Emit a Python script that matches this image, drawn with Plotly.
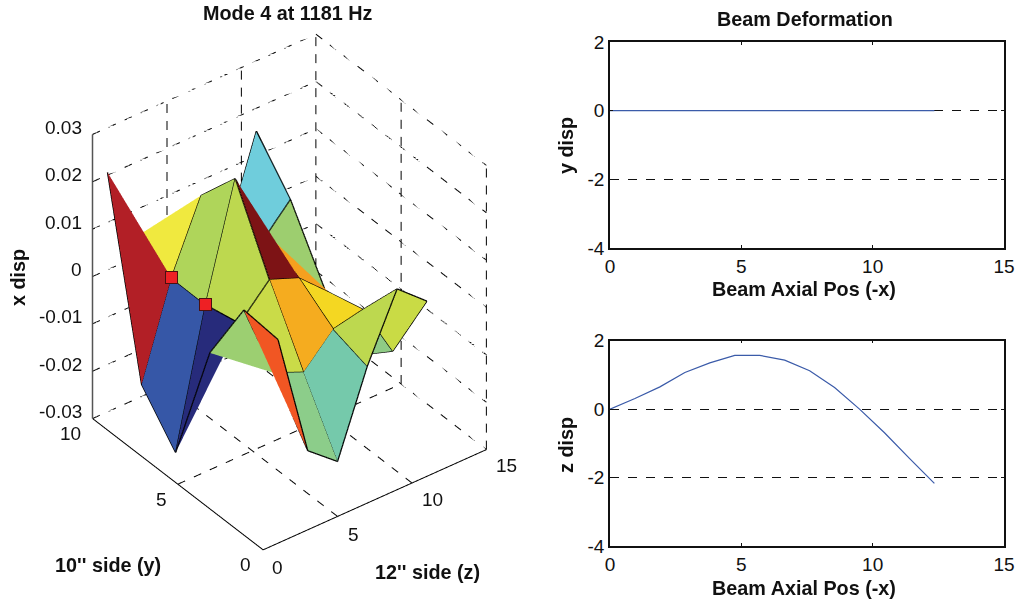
import numpy as np
import plotly.graph_objects as go

# ---- data ----
y_side = [10, 8, 6, 4, 2, 0]
z_side = [1, 3, 5, 7, 9, 11]
x_disp = [
    [0.0206, 0.0043, -0.0026, -0.0069, -0.0040, 0.0152],
    [-0.0187, 0.0010, 0.0156, 0.0001, -0.0002, 0.0063],
    [-0.0275, 0.0009, 0.0247, 0.0105, -0.0003, -0.0070],
    [-0.0009, 0.0025, 0.0089, 0.0064, 0.0006, -0.0155],
    [0.0137, -0.0024, -0.0051, 0.0012, 0.0025, -0.0091],
    [0.0130, -0.0133, -0.0184, -0.0011, 0.0124, 0.0070],
]
face_colors = [
    ["#B21F26", "#F0E93F", "#C9DB45", "#BDD84F", "#6FCDDC"],
    ["#3657A7", "#AFD55A", "#BDD84F", "#BDD84F", "#9DCE6F"],
    ["#272B7B", "#BDD84F", "#7D1315", "#F5A01F", "#9DCE6F"],
    ["#9CCF71", "#CADB48", "#F5AC1F", "#F4D722", "#8FCB85"],
    ["#F15623", "#8CCD8A", "#75C9AB", "#BDD84F", "#C9DB45"],
]
marker_y = [8, 6]
marker_z = [3, 3]
marker_d = [0.0010, 0.0009]

z_ticks = [0, 5, 10, 15]
y_ticks = [0, 5, 10]
d_ticks = [-0.03, -0.02, -0.01, 0, 0.01, 0.02, 0.03]
d_labels = ["-0.03", "-0.02", "-0.01", "0", "0.01", "0.02", "0.03"]

beam_x = [0, 0.95, 1.9, 2.85, 3.8, 4.75, 5.7, 6.65, 7.6, 8.55, 9.5, 10.45, 11.4, 12.35]
beam_y = [0] * 14
beam_z = [0, 0.31, 0.65, 1.07, 1.35, 1.57, 1.57, 1.43, 1.12, 0.63, 0, -0.69, -1.44, -2.17]
panel_x_ticks = [0, 5, 10, 15]
panel_y_ticks = [-4, -2, 0, 2]
panel_y_labels = ["-4", "-2", "0", "2"]

W, H = 1018, 602
INK = "#111111"
FONT = "Liberation Sans"
TICK = 19
BOLD = 19.8


def segs(items):
    xs, ys, zs = [], [], []
    for (a, b) in items:
        xs += [a[0], b[0], None]
        ys += [a[1], b[1], None]
        zs += [a[2], b[2], None]
    return xs, ys, zs


# approximate on-screen length of one data unit along each direction, for the dash pattern
PX = (16.3, 21.5, 4733.0)


def dashed(a, b, on=8.0, off=9.5):
    length = sum((abs(b[n] - a[n]) * PX[n]) ** 2 for n in range(3)) ** 0.5
    out, s = [], 0.0
    while s < length:
        e = min(s + on, length)
        t0, t1 = s / length, e / length
        out.append((tuple(a[n] + (b[n] - a[n]) * t0 for n in range(3)),
                    tuple(a[n] + (b[n] - a[n]) * t1 for n in range(3))))
        s += on + off
    return out


fig = go.Figure()

# surface
ny, nz = len(y_side), len(z_side)
vx, vy, vz = [], [], []
for r in range(ny):
    for c in range(nz):
        vx.append(z_side[c]); vy.append(y_side[r]); vz.append(x_disp[r][c])
ti, tj, tk, fc = [], [], [], []
for r in range(ny - 1):
    for c in range(nz - 1):
        a = r * nz + c
        b = (r + 1) * nz + c
        d = (r + 1) * nz + c + 1
        e = r * nz + c + 1
        ti += [a, a]; tj += [b, d]; tk += [d, e]
        fc += [face_colors[r][c]] * 2

# grid
dmin, dmax = d_ticks[0], d_ticks[-1]
grid = []
for d in d_ticks:
    grid += dashed((0, 10, d), (15, 10, d))
    grid += dashed((15, 10, d), (15, 0, d))
for z in z_ticks[1:]:
    grid += dashed((z, 10, dmin), (z, 10, dmax), 9, 8)
for y in y_ticks[:-1]:
    grid += dashed((15, y, dmin), (15, y, dmax), 9, 8)
for z in z_ticks[1:-1]:
    grid += dashed((z, 0, dmin), (z, 10, dmin))
for y in y_ticks[1:-1]:
    grid += dashed((0, y, dmin), (15, y, dmin))
gx, gy, gz = segs(grid)
fig.add_trace(go.Scatter3d(x=gx, y=gy, z=gz, mode="lines", hoverinfo="skip",
                           line=dict(color="#000000", width=2), showlegend=False))

# solid axes and ticks
axes = [((0, 0, dmin), (15, 0, dmin)), ((0, 0, dmin), (0, 10, dmin))]
for z in z_ticks:
    axes.append(((z, 0, dmin), (z, -0.45, dmin)))
for y in y_ticks:
    axes.append(((0, y, dmin), (-0.45, y, dmin)))
ax_x, ax_y, ax_z = segs(axes)
fig.add_trace(go.Scatter3d(x=ax_x, y=ax_y, z=ax_z, mode="lines", hoverinfo="skip",
                           line=dict(color="#000000", width=2), showlegend=False))
vert = [((0, 10, d), (0, 10.45, d)) for d in d_ticks]
vx2, vy2, vz2 = segs(vert)
fig.add_trace(go.Scatter3d(x=vx2, y=vy2, z=vz2, mode="lines", hoverinfo="skip",
                           line=dict(color="#000000", width=1.6), showlegend=False))
fig.add_trace(go.Scatter3d(x=[0, 0], y=[10, 10], z=[dmin, dmax], mode="lines", hoverinfo="skip",
                           line=dict(color="#555555", width=3), showlegend=False))

fig.add_trace(go.Mesh3d(x=vx, y=vy, z=vz, i=ti, j=tj, k=tk, facecolor=fc, flatshading=True,
                        hoverinfo="skip", showscale=False,
                        lighting=dict(ambient=1, diffuse=0, specular=0, fresnel=0, roughness=1)))

# surface edges
edges = []
for r in range(ny):
    for c in range(nz):
        p = (z_side[c], y_side[r], x_disp[r][c])
        if c + 1 < nz:
            edges.append((p, (z_side[c + 1], y_side[r], x_disp[r][c + 1])))
        if r + 1 < ny:
            edges.append((p, (z_side[c], y_side[r + 1], x_disp[r + 1][c])))
ex, ey, ez = segs(edges)
fig.add_trace(go.Scatter3d(x=ex, y=ey, z=ez, mode="lines", hoverinfo="skip",
                           line=dict(color="#000000", width=2.5), showlegend=False))

# tick labels as scene annotations
f = dict(family=FONT, size=TICK, color=INK)
ann = []
for d, lab in zip(d_ticks, d_labels):
    ann.append(dict(x=0, y=10, z=d, text=lab, showarrow=False, xanchor="right", yanchor="middle",
                    xshift=-9, yshift=7, font=f))
for y, (sx, sy) in zip(y_ticks, [(-18, -15), (-16, -15), (-22, -15)]):
    ann.append(dict(x=0, y=y, z=dmin, text=str(y), showarrow=False, xanchor="center", yanchor="middle",
                    xshift=sx, yshift=sy, font=f))
for z, (sx, sy) in zip(z_ticks, [(14, -18), (16, -18), (21, -16), (20, -16)]):
    ann.append(dict(x=z, y=0, z=dmin, text=str(z), showarrow=False, xanchor="center", yanchor="middle",
                    xshift=sx, yshift=sy, font=f))
# square point markers pinned to the surface nodes
for mz, my, md in zip(marker_z, marker_y, marker_d):
    ann.append(dict(x=mz, y=my, z=md, text=" ", showarrow=False, xanchor="center", yanchor="middle",
                    bgcolor="#EE2024", bordercolor="#4a1010", borderwidth=1, borderpad=0,
                    width=11, height=11, font=dict(family=FONT, size=8)))

cx, cy = 289.5, 292.0
half_h = 281.0
half_w = cx
eye = dict(x=-0.491, y=-0.643, z=0.588)
scene = dict(
    domain=dict(x=[0, 2 * half_w / W], y=[1 - (cy + half_h) / H, 1 - (cy - half_h) / H]),
    aspectmode="manual", aspectratio=dict(x=1, y=1, z=1.25),
    camera=dict(eye=eye, up=dict(x=0, y=0, z=1), center=dict(x=0, y=0, z=0),
                projection=dict(type="orthographic")),
    xaxis=dict(range=[0, 15], visible=False),
    yaxis=dict(range=[0, 10], visible=False),
    zaxis=dict(range=[dmin, dmax], visible=False),
    annotations=ann, bgcolor="white",
)

# 2D panels
fig.add_trace(go.Scatter(x=beam_x, y=beam_y, mode="lines", line=dict(color="#3B5BA9", width=1.2),
                         xaxis="x", yaxis="y", showlegend=False, hoverinfo="skip"))
fig.add_trace(go.Scatter(x=beam_x, y=beam_z, mode="lines", line=dict(color="#3B5BA9", width=1.2),
                         xaxis="x2", yaxis="y2", showlegend=False, hoverinfo="skip"))


def xax(anchor):
    return dict(domain=[610 / W, 1004 / W], range=[0, 15], tickvals=panel_x_ticks, anchor=anchor,
                showgrid=False, zeroline=False, showline=True, mirror="ticks", linecolor="#111111",
                linewidth=1.5, ticks="inside", ticklen=3, tickcolor="#111111",
                tickfont=dict(family=FONT, size=TICK, color=INK))


def yax(anchor, top, bottom):
    return dict(domain=[1 - bottom / H, 1 - top / H], range=[-4, 2], tickvals=panel_y_ticks,
                ticktext=panel_y_labels, anchor=anchor,
                showgrid=True, griddash="dash", gridcolor="#111111", gridwidth=1, zeroline=False,
                showline=True, mirror="ticks", linecolor="#111111", linewidth=1.5,
                ticks="inside", ticklen=3, tickcolor="#111111",
                tickfont=dict(family=FONT, size=TICK, color=INK))


def label(text, px, py, angle=0, size=BOLD):
    return dict(text="<b>%s</b>" % text, x=px / W, y=1 - py / H, xref="paper", yref="paper",
                showarrow=False, textangle=angle, xanchor="center", yanchor="middle",
                font=dict(family=FONT, size=size, color=INK))


fig.update_layout(
    width=W, height=H, margin=dict(l=0, r=0, t=0, b=0, pad=0, autoexpand=False), autosize=False,
    paper_bgcolor="white", plot_bgcolor="white", showlegend=False,
    scene=scene,
    xaxis=xax("y"), yaxis=yax("x", 42, 248),
    xaxis2=xax("y2"), yaxis2=yax("x2", 340.7, 546),
    annotations=[
        label("Mode 4 at 1181 Hz", 287, 13),
        label("x disp", 18, 278, -90),
        label("10'' side (y)", 108, 565),
        label("12'' side (z)", 427, 572),
        label("Beam Deformation", 805, 19),
        label("y disp", 566, 146, -90),
        label("Beam Axial Pos (-x)", 804, 289),
        label("z disp", 566, 445, -90),
        label("Beam Axial Pos (-x)", 804, 588),
    ],
)

fig.write_html("out.html", post_script="document.body.style.margin='0';",
               config=dict(displayModeBar=False))
